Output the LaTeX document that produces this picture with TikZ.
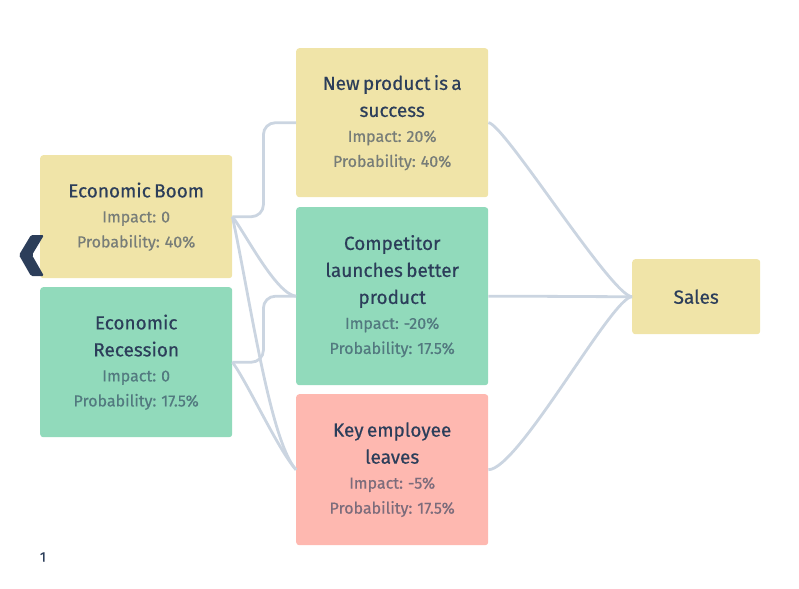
\documentclass[tikz,border=0pt]{standalone}
\usepackage{fontspec}
\setmainfont{Fira Sans}[FakeBold=0.5]
\definecolor{navy}{HTML}{2C3E5A}
\definecolor{cardY}{HTML}{F0E4A8}
\definecolor{cardG}{HTML}{91DABB}
\definecolor{cardR}{HTML}{FEB8B0}
\definecolor{wirec}{HTML}{CBD5E1}
\newcommand\cardtxt[4]{{\fontsize{19}{27}\selectfont\color{navy}#2\par}{\fontsize{16}{25}\selectfont\color{navy!62!#1}Impact: #3\par Probability: #4\par}}
\begin{document}
\begin{tikzpicture}[x=1pt,y=-1pt,
  card/.style={fill=#1, rounded corners=3pt, inner sep=0pt, minimum width=192pt, text width=186pt, align=center, anchor=north west},
  wire/.style={draw=wirec, line width=2.8pt}]
\useasboundingbox (0,0) rectangle (799,588);
\node[card=cardY, minimum height=123pt] (boom) at (40,155) {\cardtxt{cardY}{Economic Boom}{0}{40\%}};
\node[card=cardG, minimum height=150pt] (rec) at (40,287) {\cardtxt{cardG}{Economic\\Recession}{0}{17.5\%}};
\node[card=cardY, minimum height=149pt] (newp) at (296,48) {\cardtxt{cardY}{New product is a\\success}{20\%}{40\%}};
\node[card=cardG, minimum height=178pt] (comp) at (296,207) {\cardtxt{cardG}{Competitor\\launches better\\product}{-20\%}{17.5\%}};
\node[card=cardR, minimum height=151pt] (key) at (296,394) {\cardtxt{cardR}{Key employee\\leaves}{-5\%}{17.5\%}};
\node[fill=cardY, rounded corners=3pt, minimum width=128pt, minimum height=75pt, anchor=north west, text=navy, font=\fontsize{19}{20}\selectfont] (sales) at (632,259) {Sales};
\draw[wire, rounded corners=12pt] (boom.east) -- ++(31,0) |- (newp.west);
\draw[wire, rounded corners=12pt] (rec.east) -- ++(31,0) |- (comp.west);
\draw[wire] (boom.east) .. controls +(12,15) and +(-20,-2) .. (comp.west);
\draw[wire] (boom.east) .. controls +(18,84) and +(-26,-29) .. (key.west);
\draw[wire] (rec.east) .. controls +(15,20) and +(-18,-20) .. (key.west);
\draw[wire] (newp.east) .. controls +(15,0) and +(-20,0) .. (sales.west);
\draw[wire] (comp.east) .. controls +(60,0) and +(-40,0) .. (sales.west);
\draw[wire] (key.east) .. controls +(30,0) and +(-20,0) .. (sales.west);
\fill[navy, rounded corners=1.5pt] (44,235) -- (31,235) -- (19,255) -- (31,276) -- (44,276) -- (32,255) -- cycle;
\node[text=navy, font=\fontsize{14}{14}\selectfont] (pg) at (43,557) {1};
\end{tikzpicture}
\end{document}
